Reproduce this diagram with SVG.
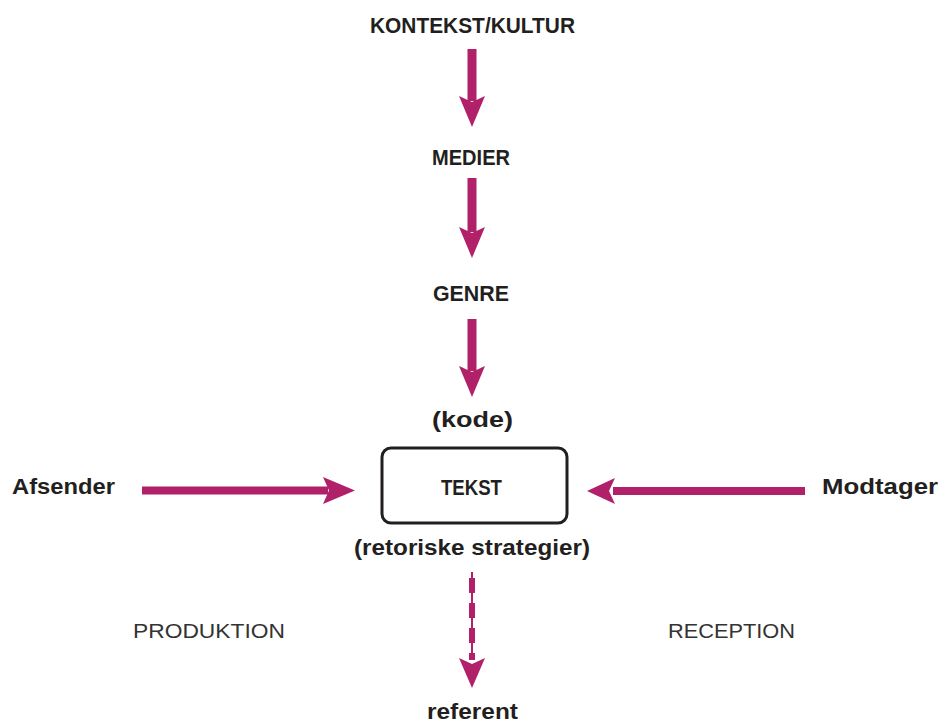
<svg xmlns="http://www.w3.org/2000/svg" width="940" height="725" viewBox="0 0 940 725">
<style>
.t{font-family:"Liberation Sans",Arial,sans-serif;font-weight:bold;font-size:22px;fill:#231f20;text-anchor:middle}
.l{font-family:"Liberation Sans",Arial,sans-serif;font-weight:normal;font-size:21px;fill:#333;text-anchor:middle}
.a{fill:#b1216a}
.s{stroke:#b1216a;fill:none}
</style>
<rect width="940" height="725" fill="#fff"/>
<g id="connectors">
  <g id="a1"><rect class="a" x="467.5" y="49" width="9" height="52"/><path class="a" d="M459,96 L472,127 L485,96 L472,102 Z"/></g>
  <g id="a2"><rect class="a" x="467.5" y="178" width="9" height="54"/><path class="a" d="M459,227 L472,258 L485,227 L472,233 Z"/></g>
  <g id="a3"><rect class="a" x="467.5" y="319" width="9" height="52"/><path class="a" d="M459,366 L472,397 L485,366 L472,372 Z"/></g>
  <g id="a4"><rect class="a" x="142" y="486.5" width="186" height="8"/><path class="a" d="M323,477 L355,490.5 L323,504 L329,490.5 Z"/></g>
  <g id="a5"><rect class="a" x="613" y="487" width="192" height="8"/><path class="a" d="M615,478 L587,491 L615,504 L609,491 Z"/></g>
  <g id="a6">
    <line class="s" x1="472" y1="572" x2="472" y2="660" stroke-width="2"/>
    <line class="s" x1="472" y1="578" x2="472" y2="660" stroke-width="6" stroke-dasharray="15,10"/>
    <path class="a" d="M459,658 L472,688 L485,658 L472,664 Z"/>
  </g>
</g>
<g id="n-kontekst"><text class="t" x="472.5" y="33" textLength="205" lengthAdjust="spacingAndGlyphs">KONTEKST/KULTUR</text></g>
<g id="n-medier"><text class="t" x="471" y="165" textLength="78" lengthAdjust="spacingAndGlyphs">MEDIER</text></g>
<g id="n-genre"><text class="t" x="471" y="301" textLength="76" lengthAdjust="spacingAndGlyphs">GENRE</text></g>
<g id="n-kode"><text class="t" x="472.5" y="427" textLength="81" lengthAdjust="spacingAndGlyphs">(kode)</text></g>
<g id="n-tekst">
  <rect x="382" y="448" width="185" height="75" rx="9" fill="none" stroke="#231f20" stroke-width="3"/>
  <text class="t" x="471.5" y="495" textLength="61" lengthAdjust="spacingAndGlyphs">TEKST</text>
</g>
<g id="n-strategier"><text class="t" x="472" y="555" textLength="236" lengthAdjust="spacingAndGlyphs">(retoriske strategier)</text></g>
<g id="n-afsender"><text class="t" x="63.5" y="494" textLength="103" lengthAdjust="spacingAndGlyphs">Afsender</text></g>
<g id="n-modtager"><text class="t" x="880" y="494" textLength="116" lengthAdjust="spacingAndGlyphs">Modtager</text></g>
<g id="n-produktion"><text class="l" x="209" y="638" textLength="152" lengthAdjust="spacingAndGlyphs">PRODUKTION</text></g>
<g id="n-reception"><text class="l" x="731.5" y="638" textLength="127" lengthAdjust="spacingAndGlyphs">RECEPTION</text></g>
<g id="n-referent"><text class="t" x="472.5" y="719" textLength="91" lengthAdjust="spacingAndGlyphs">referent</text></g>
</svg>
